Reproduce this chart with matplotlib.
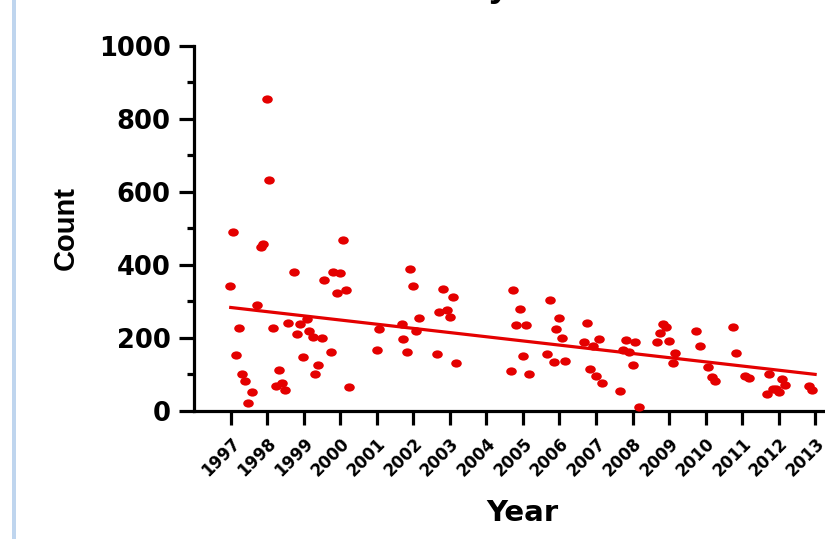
import numpy as np
from matplotlib import pyplot as plt
from matplotlib.path import Path
from matplotlib.patches import Rectangle

years = [1996.98, 1997.05, 1997.15, 1997.23, 1997.30, 1997.39, 1997.48, 1997.57,
         1997.73, 1997.82, 1997.88, 1997.99, 1998.06, 1998.15, 1998.24, 1998.31,
         1998.40, 1998.49, 1998.58, 1998.73, 1998.82, 1998.90, 1998.99, 1999.08,
         1999.15, 1999.24, 1999.32, 1999.40, 1999.49, 1999.56, 1999.75, 1999.81,
         1999.90, 1999.99, 2000.07, 2000.15, 2000.24,
         2001.00, 2001.07, 2001.68, 2001.73, 2001.82, 2001.91, 2001.99, 2002.07,
         2002.16, 2002.66, 2002.71, 2002.82, 2002.92, 2003.01, 2003.08, 2003.16,
         2004.67, 2004.74, 2004.82, 2004.91, 2005.00, 2005.09, 2005.16,
         2005.67, 2005.75, 2005.84, 2005.90, 2006.00, 2006.08, 2006.16,
         2006.66, 2006.75, 2006.84, 2006.92, 2007.00, 2007.09, 2007.16,
         2007.66, 2007.74, 2007.83, 2007.90, 2008.00, 2008.08, 2008.17,
         2008.66, 2008.74, 2008.84, 2008.92, 2009.01, 2009.10, 2009.17,
         2009.75, 2009.84, 2010.08, 2010.17, 2010.25,
         2010.75, 2010.84, 2011.09, 2011.18, 2011.67, 2011.75, 2011.85,
         2011.94, 2012.00, 2012.10, 2012.18, 2012.82, 2012.92]
counts = [343, 491, 153, 228, 100, 82, 21, 52,
          289, 448, 458, 854, 632, 228, 69, 112,
          76, 58, 242, 382, 212, 237, 147, 251,
          220, 204, 100, 126, 199, 360, 162, 381,
          322, 377, 468, 331, 67,
          167, 224, 238, 198, 162, 389, 343, 220,
          256, 156, 271, 333, 277, 257, 311, 131,
          110, 332, 236, 280, 152, 236, 101,
          156, 303, 135, 224, 256, 201, 138,
          190, 242, 116, 178, 96, 196, 76,
          56, 167, 194, 161, 126, 190, 10,
          188, 213, 239, 229, 192, 132, 158,
          219, 179, 121, 92, 83,
          230, 158, 97, 90, 46, 101, 59,
          61, 52, 88, 72, 68, 58]

tick_years = list(range(1997, 2014))

red = '#e40000'

fig = plt.figure(figsize=(8.25, 5.39), dpi=100)
ax = fig.add_axes([0.2354, 0.2375, 0.7646, 0.6772])

# slightly flattened dots like the original
circ = Path.unit_circle()
ell = Path(circ.vertices * np.array([1.0, 0.78]), circ.codes)

ax.scatter(years, counts, s=58, marker=ell, color=red, linewidths=0, zorder=3, clip_on=False)

# linear trend
slope, icpt = np.polyfit(years, counts, 1)
fx = np.array([1997, 2013])
ax.plot(fx, slope * fx + icpt, color=red, lw=2.3, zorder=2)

ax.set_xlim(1996, 2013.27)
ax.set_ylim(0, 1000)

ax.spines['top'].set_visible(False)
ax.spines['right'].set_visible(False)
for s in ['left', 'bottom']:
    ax.spines[s].set_linewidth(2.3)

ax.set_xticks(tick_years)
ax.set_xticklabels([str(y) for y in tick_years], rotation=45, ha='right',
                   rotation_mode='anchor', fontsize=12, fontweight='bold',
                   family='DejaVu Sans')
ax.set_yticks(range(0, 1001, 200))
ax.set_yticks(range(100, 1000, 200), minor=True)
ax.tick_params(axis='y', which='major', length=11, width=2.3, pad=6, labelsize=18.5)
ax.tick_params(axis='y', which='minor', length=5, width=2.3)
ax.tick_params(axis='x', which='major', length=10, width=2.3, pad=7)
for lab in ax.get_yticklabels():
    lab.set_fontweight('bold')
    lab.set_family('DejaVu Sans')

ax.set_xlabel('Year', fontsize=21, fontweight='bold', family='DejaVu Sans')
ax.xaxis.set_label_coords(0.52, -0.24)
ax.set_ylabel('Count', fontsize=21, fontweight='bold', family='Liberation Sans', labelpad=14)

# title sits mostly above the cropped top edge
fig.text(0.636, 1 + 4 / 539, 'Total Count by Year and Month', ha='center', va='baseline',
         fontsize=27, fontweight='bold', family='Liberation Sans')

# thin blue frame strip on the left
fig.patches.append(Rectangle((12 / 825, 0), 3.5 / 825, 1, transform=fig.transFigure,
                             facecolor='#bfd5ee', edgecolor='none'))

plt.savefig('out.png', dpi=100)
